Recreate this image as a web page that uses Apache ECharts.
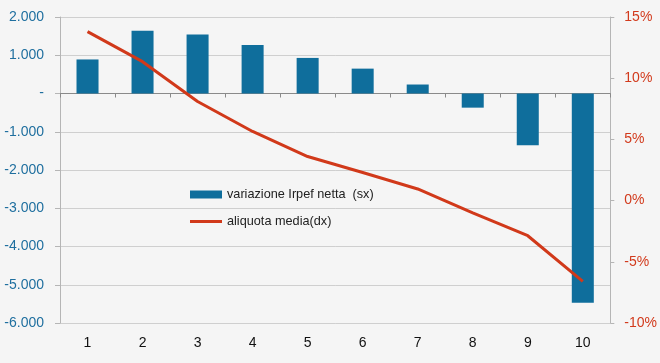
<!DOCTYPE html>
<html>
<head>
<meta charset="utf-8">
<script src="https://cdn.jsdelivr.net/npm/echarts@6/dist/echarts.min.js"></script>
<style>
html,body{margin:0;padding:0;background:#f5f5f5;}
#c{width:660px;height:363px;}
</style>
</head>
<body>
<div id="c"></div>
<script>
var categories = ['1','2','3','4','5','6','7','8','9','10'];
var variazioneIrpef = [890, 1640, 1540, 1270, 930, 650, 235, -370, -1350, -5470];
var aliquotaMedia = [13.8, 11.35, 8.1, 5.65, 3.6, 2.3, 0.95, -1.0, -2.87, -6.6];
var leftTicks = {min: -6000, max: 2000, interval: 1000};
var rightTicks = {min: -10, max: 15, interval: 5};
var seriesNames = ['variazione Irpef netta  (sx)', 'aliquota media(dx)'];

var font = 'Liberation Sans';
var chart = echarts.init(document.getElementById('c'));
chart.setOption({
  backgroundColor: '#f5f5f5',
  animation: false,
  grid: {left: 60, right: 49, top: 17, bottom: 40, containLabel: false},
  legend: [
    {data: [seriesNames[0]], left: 190, top: 188, padding: 0, itemWidth: 32, itemHeight: 8, itemGap: 0,
     icon: 'rect', textStyle: {color: '#222', fontSize: 12.7, fontFamily: font}},
    {data: [seriesNames[1]], left: 190, top: 215, padding: 0, itemWidth: 32, itemHeight: 3, itemGap: 0,
     icon: 'rect', textStyle: {color: '#222', fontSize: 12.7, fontFamily: font}}
  ],
  xAxis: [
    {type: 'category', data: categories, position: 'bottom',
     axisLine: {show: false}, axisTick: {show: false},
     axisLabel: {color: '#111', fontSize: 14, fontFamily: font, margin: 13}},
    {type: 'category', data: categories, position: 'bottom',
     axisLine: {show: true, onZero: true, onZeroAxisIndex: 0, lineStyle: {color: '#8a8a8a', width: 1}},
     axisTick: {show: true, length: 4, lineStyle: {color: '#8a8a8a'}},
     axisLabel: {show: false}}
  ],
  yAxis: [
    {type: 'value', min: leftTicks.min, max: leftTicks.max, interval: leftTicks.interval,
     axisLine: {show: true, lineStyle: {color: '#b5b5b5'}},
     axisTick: {show: true, length: 5, lineStyle: {color: '#b5b5b5'}},
     splitLine: {show: true, lineStyle: {color: '#cfcfcf', width: 1}},
     axisLabel: {color: '#1f6f9f', fontSize: 14, fontFamily: font, margin: 16,
       formatter: function(v){
         if (v === 0) return '-';
         var s = Math.abs(v).toString().replace(/\B(?=(\d{3})+(?!\d))/g, '.');
         return (v < 0 ? '-' : '') + s;
       }}},
    {type: 'value', min: rightTicks.min, max: rightTicks.max, interval: rightTicks.interval,
     position: 'right',
     axisLine: {show: true, lineStyle: {color: '#b5b5b5'}},
     axisTick: {show: true, length: 4, lineStyle: {color: '#b5b5b5'}},
     splitLine: {show: false},
     axisLabel: {color: '#d23a1c', fontSize: 14, fontFamily: font, margin: 14,
       formatter: function(v){ return v + '%'; }}}
  ],
  series: [
    {name: seriesNames[0], type: 'bar', data: variazioneIrpef, xAxisIndex: 0, yAxisIndex: 0,
     barWidth: '40%', itemStyle: {color: '#0f6e9c'}},
    {name: seriesNames[1], type: 'line', data: aliquotaMedia, xAxisIndex: 0, yAxisIndex: 1,
     showSymbol: false, symbol: 'none', lineStyle: {color: '#d1391a', width: 3}, itemStyle: {color: '#d1391a'}}
  ]
});
</script>
</body>
</html>
